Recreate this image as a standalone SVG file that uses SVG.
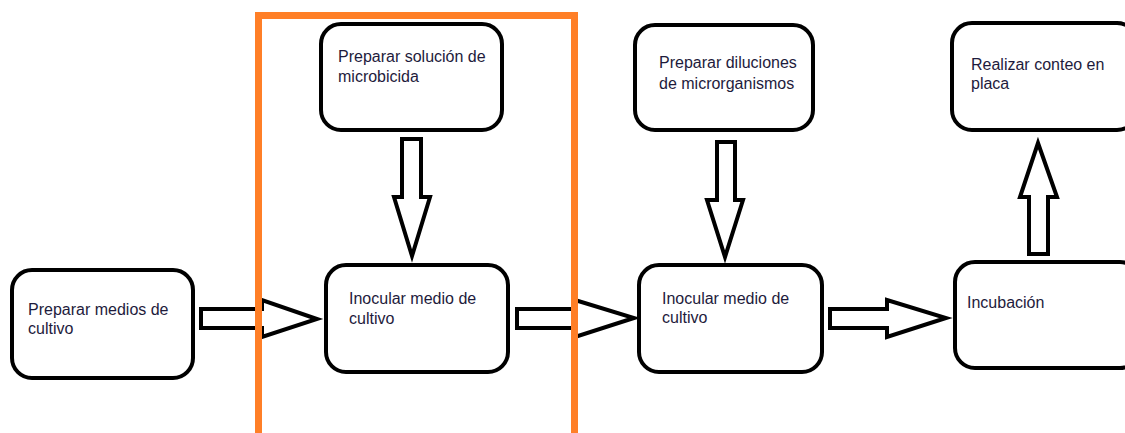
<svg xmlns="http://www.w3.org/2000/svg" width="1125" height="433" viewBox="0 0 1125 433">
<style>
.box{fill:#fff;stroke:#000;stroke-width:4}
.arr{fill:#fff;stroke:#000;stroke-width:4;stroke-linejoin:miter}
.t{font-family:"Liberation Sans",Arial,sans-serif;font-size:16px;fill:#1e1b3c}
.frame{fill:none;stroke:#ff7f27;stroke-width:7}
</style>
<rect width="1125" height="433" fill="#fff"/>
<g id="n1"><rect class="box" x="12" y="270" width="181" height="108" rx="20"/>
<text class="t" x="28" y="315">Preparar medios de</text><text class="t" x="28" y="334">cultivo</text></g>
<g id="n2"><rect class="box" x="321" y="24" width="181" height="106" rx="20"/>
<text class="t" x="338" y="62">Preparar solución de</text><text class="t" x="338" y="82">microbicida</text></g>
<g id="n3"><rect class="box" x="326" y="265" width="182" height="107" rx="20"/>
<text class="t" x="349" y="304">Inocular medio de</text><text class="t" x="349" y="324">cultivo</text></g>
<g id="n4"><rect class="box" x="635" y="25" width="178" height="105" rx="20"/>
<text class="t" x="659" y="68">Preparar diluciones</text><text class="t" x="659" y="89">de microrganismos</text></g>
<g id="n5"><rect class="box" x="639" y="265" width="183" height="107" rx="20"/>
<text class="t" x="662" y="304">Inocular medio de</text><text class="t" x="662" y="323">cultivo</text></g>
<g id="n6"><rect class="box" x="952" y="23" width="185" height="107" rx="20"/>
<text class="t" x="971" y="70">Realizar conteo en</text><text class="t" x="971" y="89">placa</text></g>
<g id="n7"><rect class="box" x="955" y="262" width="185" height="106" rx="20"/>
<text class="t" x="967" y="308">Incubación</text></g>
<g id="connectors">
<polygon class="arr" points="201,309 262,309 262,300 317,319 262,337 262,328 201,328"/>
<polygon class="arr" points="517,309 575,309 575,300 634,318 575,337 575,328 517,328"/>
<polygon class="arr" points="830,309 887,309 887,300 946,318 887,337 887,328 830,328"/>
<polygon class="arr" points="402,139 421,139 421,197 430,197 412,256 394,197 402,197"/>
<polygon class="arr" points="717,142 735,142 735,200 743,200 725,257 707,200 717,200"/>
<polygon class="arr" points="1029,254 1048,254 1048,197 1057,197 1038,143 1020,197 1029,197"/>
</g>
<rect id="group-frame" class="frame" x="258.5" y="15.5" width="316" height="430"/>
</svg>
